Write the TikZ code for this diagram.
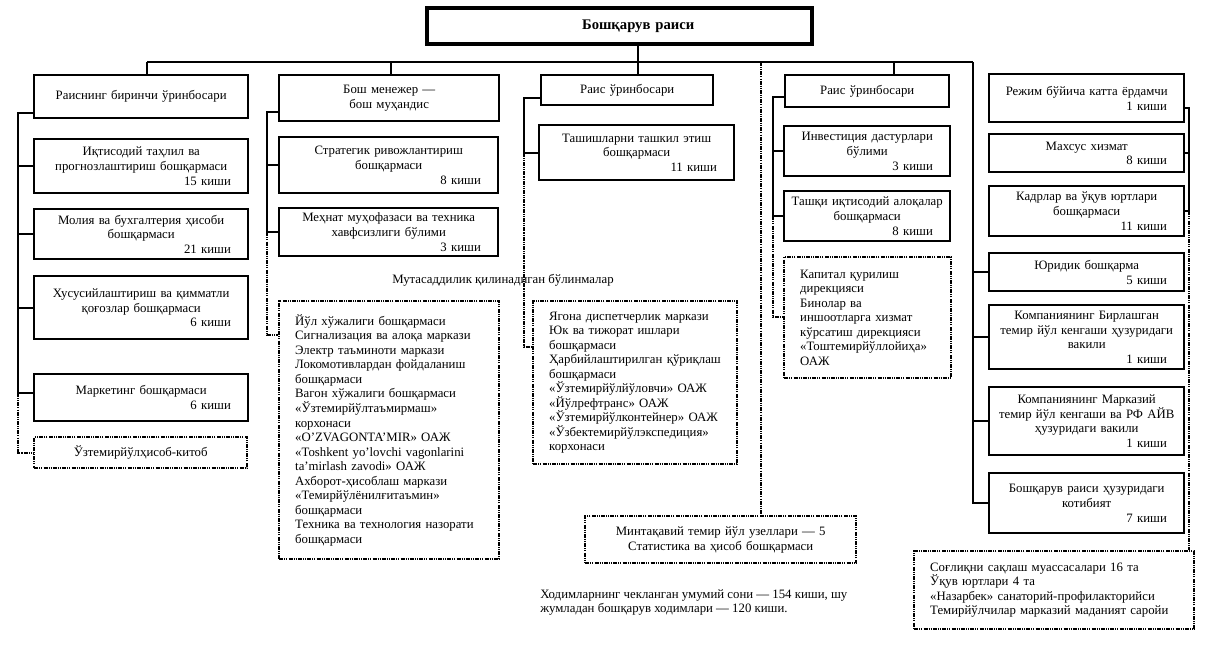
\documentclass[tikz,border=0pt]{standalone}
\usepackage{fontspec}
\setmainfont{Liberation Serif}
\newcommand\mybox[8]{%
 \pgfmathsetlengthmacro\bw{(#6-#4)*0.75pt}%
 \pgfmathsetlengthmacro\bh{(#7-#5)*0.75pt}%
 \pgfmathsetlengthmacro\tw{(#6-#4)*0.75pt-2*#2pt}%
 \node[#1, inner xsep=#2pt, anchor=north west, minimum width=\bw, minimum height=\bh, text width=\tw] (#3) at (#4,#5) {#8};}
\newcommand\kishi[1]{\hspace*{\fill}#1\rule{11pt}{0pt}}
\begin{document}
\begin{tikzpicture}[x=0.75pt,y=-0.75pt,
  dotpat/.style={dash pattern=on 3pt off 0.8pt on 0.8pt off 0.8pt on 0.8pt off 0.8pt},
  box/.style={draw, line width=1.8pt, inner ysep=2pt, align=center, font=\fontsize{9.6}{11}\selectfont},
  topbox/.style={draw, line width=3pt, inner ysep=2pt, align=center, font=\bfseries\fontsize{11}{13}\selectfont},
  dbox/.style={box, dotpat},
  lbox/.style={draw, dotpat, line width=1.8pt, inner ysep=2pt, align=left, font=\fontsize{9.6}{10.9}\selectfont},
  conn/.style={line width=1.5pt},
  dconn/.style={conn, dotpat},
  plain/.style={inner sep=0pt, align=left, font=\fontsize{9.6}{11.2}\selectfont}]
\useasboundingbox[fill=white] (0,0) rectangle (1214,654);

% top
\mybox{topbox}{4}{T}{425}{6}{810}{42}{\hspace*{28pt}Бошқарув раиси}

% column A
\mybox{box}{2}{A}{33}{74}{247}{117}{Раиснинг биринчи ўринбосари\\[8pt]}
\mybox{box}{2}{Iq}{33}{138}{247}{192}{Иқтисодий таҳлил ва\\прогнозлаштириш бошқармаси\\\kishi{15 киши}}
\mybox{box}{2}{Mol}{33}{208}{247}{258}{Молия ва бухгалтерия ҳисоби\\бошқармаси\\\kishi{21 киши}}
\mybox{box}{2}{Xus}{33}{275}{247}{338}{Хусусийлаштириш ва қимматли\\қоғозлар бошқармаси\\\kishi{6 киши}}
\mybox{box}{2}{Mar}{33}{373}{247}{420}{Маркетинг бошқармаси\\\kishi{6 киши}}
\mybox{dbox}{2}{Uzh}{33}{436}{246}{467}{Ўзтемирйўлҳисоб-китоб}

% column B
\mybox{box}{2}{B}{278}{74}{498}{120}{Бош менежер —\\бош муҳандис}
\mybox{box}{2}{Str}{278}{136}{497}{192}{Стратегик ривожлантириш\\бошқармаси\\\kishi{8 киши}}
\mybox{box}{2}{Meh}{278}{207}{497}{255}{Меҳнат муҳофазаси ва техника\\хавфсизлиги бўлими\\\kishi{3 киши}}
\node[plain, anchor=base west] (Mut) at (392,283) {Мутасаддилик қилинадиган бўлинмалар};
\mybox{lbox}{12}{Yul}{278}{300}{498}{558}{Йўл хўжалиги бошқармаси\\Сигнализация ва алоқа маркази\\Электр таъминоти маркази\\Локомотивлардан фойдаланиш\\бошқармаси\\Вагон хўжалиги бошқармаси\\«Ўзтемирйўлтаъмирмаш»\\корхонаси\\«O’ZVAGONTA’MIR» ОАЖ\\«Toshkent yo’lovchi vagonlarini\\ta’mirlash zavodi» ОАЖ\\Ахборот-ҳисоблаш маркази\\«Темирйўлёнилғитаъмин»\\бошқармаси\\Техника ва технология назорати\\бошқармаси}

% column C
\mybox{box}{2}{C}{540}{74}{712}{104}{Раис ўринбосари}
\mybox{box}{2}{Tash}{538}{124}{733}{179}{Ташишларни ташкил этиш\\бошқармаси\\\kishi{11 киши}}
\mybox{lbox}{12}{Yag}{532}{300}{736}{463}{Ягона диспетчерлик маркази\\Юк ва тижорат ишлари\\бошқармаси\\Ҳарбийлаштирилган қўриқлаш\\бошқармаси\\«Ўзтемирйўлйўловчи» ОАЖ\\«Йўлрефтранс» ОАЖ\\«Ўзтемирйўлконтейнер» ОАЖ\\«Ўзбектемирйўлэкспедиция»\\корхонаси}

% column D
\mybox{box}{2}{D}{784}{74}{948}{106}{Раис ўринбосари}
\mybox{box}{2}{Inv}{783}{125}{949}{175}{Инвестиция дастурлари\\бўлими\\\kishi{3 киши}}
\mybox{box}{2}{Tsh}{783}{190}{949}{240}{Ташқи иқтисодий алоқалар\\бошқармаси\\\kishi{8 киши}}
\mybox{lbox}{12}{Kap}{783}{256}{950}{377}{Капитал қурилиш\\дирекцияси\\Бинолар ва\\иншоотларга хизмат\\кўрсатиш дирекцияси\\«Тоштемирйўллойиҳа»\\ОАЖ}

% regional
\mybox{dbox}{2}{Min}{584}{515}{855}{562}{Минтақавий темир йўл узеллари — 5\\Статистика ва ҳисоб бошқармаси}
\node[plain, anchor=north west] (Xod) at (540,589) {Ходимларнинг чекланган умумий сони — 154 киши, шу\\жумладан бошқарув ходимлари — 120 киши.};

% right column
\mybox{box}{2}{Rej}{988}{73}{1183}{121}{Режим бўйича катта ёрдамчи\\\kishi{1 киши}}
\mybox{box}{2}{Mx}{988}{133}{1183}{171}{Махсус хизмат\\\kishi{8 киши}}
\mybox{box}{2}{Kad}{988}{185}{1183}{235}{Кадрлар ва ўқув юртлари\\бошқармаси\\\kishi{11 киши}}
\mybox{box}{2}{Jur}{988}{252}{1183}{290}{Юридик бошқарма\\\kishi{5 киши}}
\mybox{box}{2}{Bir}{988}{304}{1183}{368}{Компаниянинг Бирлашган\\темир йўл кенгаши ҳузуридаги\\вакили\\\kishi{1 киши}}
\mybox{box}{2}{Mkz}{988}{386}{1183}{454}{Компаниянинг Марказий\\темир йўл кенгаши ва РФ АЙВ\\ҳузуридаги вакили\\\kishi{1 киши}}
\mybox{box}{2}{Kot}{988}{472}{1183}{532}{Бошқарув раиси ҳузуридаги\\котибият\\\kishi{7 киши}}
\mybox{lbox}{12}{Sog}{913}{550}{1193}{628}{Соғлиқни сақлаш муассасалари 16 та\\Ўқув юртлари 4 та\\«Назарбек» санаторий-профилакторийси\\Темирйўлчилар марказий маданият саройи}

% bus
\coordinate (bL) at (147,62);
\coordinate (bB) at (391,62);
\coordinate (bC) at (638,62);
\coordinate (bM) at (761,62);
\coordinate (bD) at (894,62);
\coordinate (bR) at (973,62);
\draw[conn] (bL) -- (bR);
\draw[conn] (bL) -- (bL |- A.north);
\draw[conn] (bB) -- (bB |- B.north);
\draw[conn] (T.south -| bC) -- (bC |- C.north);
\draw[conn] (bD) -- (bD |- D.north);
\draw[dconn] (bM) -- (bM |- Min.north);
\draw[conn] (bR) |- (Kot.west);
\draw[conn] (bR |- Jur.west) -- (Jur.west);
\draw[conn] (bR |- Bir.west) -- (Bir.west);
\draw[conn] (bR |- Mkz.west) -- (Mkz.west);

% spine A
\coordinate (sA) at (18,113);
\coordinate (eA) at (18,393);
\draw[conn] (sA -| A.west) -- (sA) -- (eA) -- (eA -| Mar.west);
\draw[conn] (sA |- Iq.west) -- (Iq.west);
\draw[conn] (sA |- Mol.west) -- (Mol.west);
\draw[conn] (sA |- Xus.west) -- (Xus.west);
\draw[dconn] (eA) |- (Uzh.west);

% spine B
\coordinate (sB) at (267,112);
\coordinate (eB) at (267,335);
\draw[conn] (sB -| B.west) -- (sB) -- (sB |- Meh.west) -- (Meh.west);
\draw[conn] (sB |- Str.west) -- (Str.west);
\draw[dconn] (sB |- Meh.west) -- (eB) -- (eB -| Yul.west);

% spine C
\coordinate (sC) at (524,98);
\coordinate (eC) at (524,347);
\draw[conn] (sC -| C.west) -- (sC) -- (sC |- Tash.west) -- (Tash.west);
\draw[dconn] (sC |- Tash.west) -- (eC) -- (eC -| Yag.west);

% spine D
\coordinate (sD) at (773,97);
\coordinate (eD) at (773,317);
\draw[conn] (sD -| D.west) -- (sD) -- (sD |- Tsh.west) -- (Tsh.west);
\draw[conn] (sD |- Inv.west) -- (Inv.west);
\draw[dconn] (sD |- Tsh.west) -- (eD) -- (eD -| Kap.west);

% right spine
\coordinate (rr) at (1189,108);
\draw[conn] (rr -| Rej.east) -- (rr) -- (rr |- Kad.east) -- (Kad.east);
\draw[conn] (rr |- Mx.east) -- (Mx.east);
\draw[dconn] (rr |- Kad.east) -- (rr |- Sog.north);
\end{tikzpicture}
\end{document}
